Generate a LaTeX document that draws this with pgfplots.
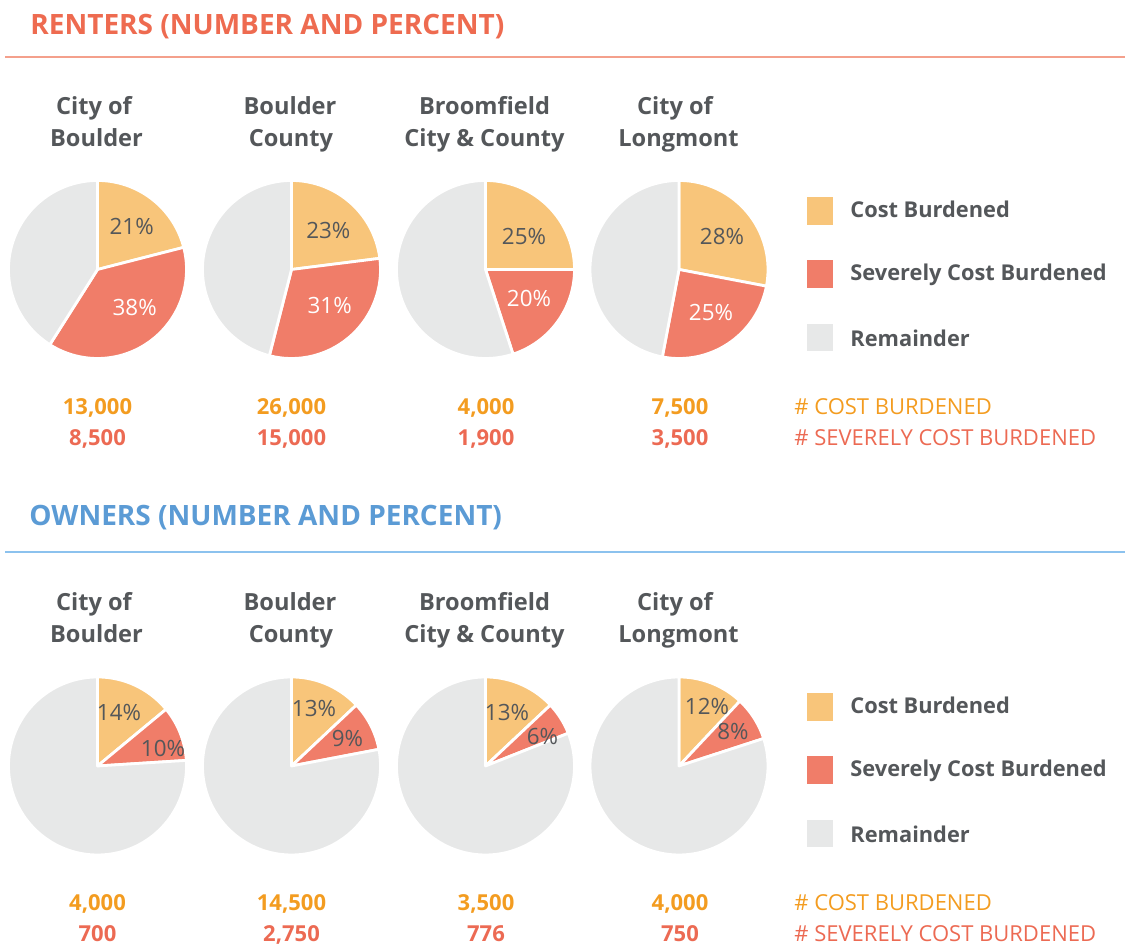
\documentclass[border=0pt]{standalone}
\usepackage{pgfplots}
\pgfplotsset{compat=1.18}
\usepackage{fontspec}
\setmainfont{Open Sans}
\IfFontExistsTF{Open Sans SemiBold}{\newfontfamily\sbf{Open Sans SemiBold}}{\newcommand\sbf{\bfseries}}
\definecolor{cbc}{HTML}{F8C57A}
\definecolor{scbc}{HTML}{F07D69}
\definecolor{remc}{HTML}{E7E8E8}
\definecolor{dgray}{HTML}{54575A}
\definecolor{numo}{HTML}{F39C20}
\definecolor{numr}{HTML}{EC6A53}
\definecolor{rtitle}{HTML}{EE6B50}
\definecolor{rentline}{HTML}{F4A08C}
\definecolor{otitle}{HTML}{5B9BD5}
\definecolor{ownline}{HTML}{8CC2EE}
\def\R{89}
\newcommand\pie[4]{%
\pgfmathsetmacro\aB{90-3.6*#3}%
\pgfmathsetmacro\aC{90-3.6*(#3+#4)}%
\edef\tmp{%
\noexpand\addplot[fill=cbc, draw=white, line width=1.4pt, line join=round, domain=\aB:90, samples=60] ({#1+\R*cos(x)},{#2+\R*sin(x)}) -- (axis cs:#1,#2) -- cycle;
\noexpand\addplot[fill=scbc, draw=white, line width=1.4pt, line join=round, domain=\aC:\aB, samples=60] ({#1+\R*cos(x)},{#2+\R*sin(x)}) -- (axis cs:#1,#2) -- cycle;
\noexpand\addplot[fill=remc, draw=white, line width=1.4pt, line join=round, domain=-270:\aC, samples=120] ({#1+\R*cos(x)},{#2+\R*sin(x)}) -- (axis cs:#1,#2) -- cycle;
}\tmp}
\begin{document}
\begin{tikzpicture}
\begin{axis}[at={(0,0)}, anchor=south west, scale only axis, width=562.5pt, height=472.5pt,
  xmin=0, xmax=1125, ymin=0, ymax=945, hide axis, clip=false]
% ---------- RENTERS ----------
\pie{97.5}{675.5}{21}{38}
\pie{291.5}{675.5}{23}{31}
\pie{485.5}{675.5}{25}{20}
\pie{679}{675.5}{28}{25}
% ---------- OWNERS ----------
\pie{97.5}{179}{14}{10}
\pie{291.5}{179}{13}{9}
\pie{485.5}{179}{13}{6}
\pie{679}{179}{12}{8}
% titles
\node[anchor=base west, inner sep=0, text=rtitle, font=\sbf\fontsize{14.0}{17}\selectfont] at (axis cs:30,910.5) {RENTERS (NUMBER AND PERCENT)};
\draw[draw=rentline, line width=0.75pt] (axis cs:5,888) -- (axis cs:1125,888);
\node[anchor=base west, inner sep=0, text=otitle, font=\sbf\fontsize{14.0}{17}\selectfont] at (axis cs:29,419) {OWNERS (NUMBER AND PERCENT)};
\draw[draw=ownline, line width=0.9pt] (axis cs:5,393.3) -- (axis cs:1125,393.3);
% column titles
\begin{scope}[every node/.style={anchor=base, inner sep=0, text=dgray, font=\sbf\fontsize{11.8}{15}\selectfont}]
\node at (axis cs:94,830.5) {City of};
\node at (axis cs:96.5,798) {Boulder};
\node at (axis cs:290,830.5) {Boulder};
\node at (axis cs:291,798) {County};
\node at (axis cs:484.5,830.5) {Broomfield};
\node at (axis cs:484.5,798) {City \& County};
\node at (axis cs:675,830.5) {City of};
\node at (axis cs:678.5,798) {Longmont};
\node at (axis cs:94,334.5) {City of};
\node at (axis cs:96.5,302) {Boulder};
\node at (axis cs:290,334.5) {Boulder};
\node at (axis cs:291,302) {County};
\node at (axis cs:484.5,334.5) {Broomfield};
\node at (axis cs:484.5,302) {City \& County};
\node at (axis cs:675,334.5) {City of};
\node at (axis cs:678.5,302) {Longmont};
\end{scope}
% percent labels
\begin{scope}[every node/.style={anchor=center, inner sep=0, text=dgray, font=\fontsize{11.2}{14}\selectfont}]
\node at (axis cs:131.7,718) {21\%};
\node[text=white] at (axis cs:134.7,637) {38\%};
\node at (axis cs:328.3,714.5) {23\%};
\node[text=white] at (axis cs:329.7,639) {31\%};
\node at (axis cs:524,708) {25\%};
\node[text=white] at (axis cs:529,646) {20\%};
\node at (axis cs:722,708) {28\%};
\node[text=white] at (axis cs:711,632) {25\%};
\node at (axis cs:119,232) {14\%};
\node at (axis cs:163,196) {10\%};
\node at (axis cs:314,236) {13\%};
\node at (axis cs:347.5,206) {9\%};
\node at (axis cs:507,232) {13\%};
\node at (axis cs:542.5,208) {6\%};
\node at (axis cs:707,238) {12\%};
\node at (axis cs:733,213) {8\%};
\end{scope}
% numbers
\begin{scope}[every node/.style={anchor=base, inner sep=0, font=\sbf\fontsize{11.0}{14}\selectfont}]
\node[text=numo] at (axis cs:97.5,530.5) {13,000};
\node[text=numo] at (axis cs:291.5,530.5) {26,000};
\node[text=numo] at (axis cs:486,530.5) {4,000};
\node[text=numo] at (axis cs:680,530.5) {7,500};
\node[text=numr] at (axis cs:97.5,499.3) {8,500};
\node[text=numr] at (axis cs:291.5,499.3) {15,000};
\node[text=numr] at (axis cs:486,499.3) {1,900};
\node[text=numr] at (axis cs:680,499.3) {3,500};
\node[text=numo] at (axis cs:97.5,34.5) {4,000};
\node[text=numo] at (axis cs:291.5,34.5) {14,500};
\node[text=numo] at (axis cs:486,34.5) {3,500};
\node[text=numo] at (axis cs:680,34.5) {4,000};
\node[text=numr] at (axis cs:97.5,3.3) {700};
\node[text=numr] at (axis cs:291.5,3.3) {2,750};
\node[text=numr] at (axis cs:486,3.3) {776};
\node[text=numr] at (axis cs:680,3.3) {750};
\end{scope}
\begin{scope}[every node/.style={anchor=base west, inner sep=0, font=\fontsize{11.0}{14}\selectfont}]
\node[text=numo] at (axis cs:794,530.5) {\# COST BURDENED};
\node[text=numr] at (axis cs:794,499.3) {\# SEVERELY COST BURDENED};
\node[text=numo] at (axis cs:794,34.5) {\# COST BURDENED};
\node[text=numr] at (axis cs:794,3.3) {\# SEVERELY COST BURDENED};
\end{scope}
% legends
\fill[cbc] (axis cs:807,720) rectangle (axis cs:833,747.7);
\fill[scbc] (axis cs:807,656.7) rectangle (axis cs:833,685);
\fill[remc] (axis cs:807,594.3) rectangle (axis cs:833,620.7);
\fill[cbc] (axis cs:807,224) rectangle (axis cs:833,251.7);
\fill[scbc] (axis cs:807,160.7) rectangle (axis cs:833,189);
\fill[remc] (axis cs:807,98.3) rectangle (axis cs:833,124.7);
\begin{scope}[every node/.style={anchor=base west, inner sep=0, text=dgray, font=\sbf\fontsize{10.9}{14}\selectfont}]
\node at (axis cs:850,727.7) {Cost Burdened};
\node at (axis cs:850,664.3) {Severely Cost Burdened};
\node at (axis cs:850,598.3) {Remainder};
\node at (axis cs:850,231.7) {Cost Burdened};
\node at (axis cs:850,168.3) {Severely Cost Burdened};
\node at (axis cs:850,102.3) {Remainder};
\end{scope}
\end{axis}
\pgfresetboundingbox
\path (0,0) rectangle (562.5pt,472.5pt);
\end{tikzpicture}
\end{document}
